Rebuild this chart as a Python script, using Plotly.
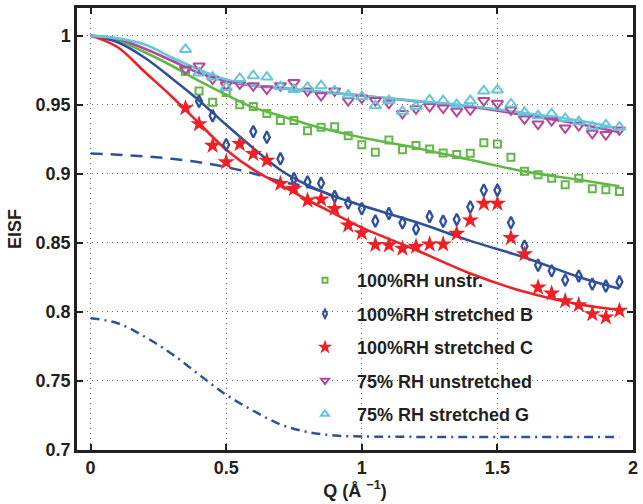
import plotly.graph_objects as go

# Momentum transfer grid of the measured points (1/Angstrom)
q_data = [0.35, 0.40, 0.45, 0.50, 0.55, 0.60, 0.65, 0.70, 0.75, 0.80, 0.85,
          0.90, 0.95, 1.00, 1.05, 1.10, 1.15, 1.20, 1.25, 1.30, 1.35, 1.40,
          1.45, 1.50, 1.55, 1.60, 1.65, 1.70, 1.75, 1.80, 1.85, 1.90, 1.95]

eisf_100_unstr = [0.974, 0.960, 0.9517, 0.9589, 0.950, 0.9486, 0.9437, 0.9385,
                  0.9385, 0.9312, 0.9337, 0.934, 0.9276, 0.921, 0.9156, 0.9245,
                  0.9173, 0.9204, 0.918, 0.9151, 0.9139, 0.9149, 0.9224, 0.9216,
                  0.912, 0.9019, 0.8993, 0.8968, 0.8921, 0.8968, 0.8892, 0.8885,
                  0.8872]

eisf_100_str_b = [None, 0.9524, 0.942, 0.921, None, 0.9305, 0.9264, 0.9108,
                  0.8964, 0.894, 0.8932, 0.8836, 0.8788, 0.8747, 0.8658, 0.8712,
                  0.8645, 0.8600, 0.8690, 0.8656, 0.8668, 0.8759, 0.888, 0.888,
                  0.8645, 0.8475, 0.8338, 0.8297, 0.823, 0.8259, 0.8201, 0.8187,
                  0.8218]

eisf_100_str_c = [0.9476, 0.936, 0.9204, 0.9084, 0.9216, 0.9144, 0.9096, 0.8928,
                  0.8892, 0.8807, 0.8815, 0.8747, 0.8627, 0.8571, 0.8486, 0.8483,
                  0.8459, 0.8472, 0.849, 0.849, 0.8567, 0.8663, 0.8784, 0.8784,
                  0.8536, 0.8418, 0.8177, 0.8134, 0.8079, 0.805, 0.7985, 0.7961,
                  0.8009]

eisf_75_unstr = [0.9757, 0.978, 0.9685, 0.9644, 0.965, 0.9637, 0.9613, 0.9637,
                 0.966, 0.960, 0.9565, 0.960, 0.9529, 0.9548, 0.953, 0.951,
                 0.9437, 0.947, 0.9486, 0.9476, 0.9452, 0.9462, 0.953, 0.951,
                 0.9462, 0.9397, 0.936, 0.9385, 0.9332, 0.9349, 0.9293, 0.9284,
                 0.9317]

eisf_75_str_g = [0.990, 0.973, 0.970, 0.9625, 0.969, 0.971, 0.970, 0.963,
                 0.961, 0.9625, 0.9637, 0.960, 0.957, 0.9558, 0.9493, 0.9529,
                 0.9452, 0.9486, 0.9534, 0.9529, 0.950, 0.9529, 0.960, 0.9606,
                 0.9505, 0.9445, 0.942, 0.9433, 0.940, 0.9377, 0.934, 0.9353,
                 0.9337]

# Fitted model curves, sampled on a coarser Q grid
q_fit = [0.0, 0.1, 0.2, 0.3, 0.4, 0.5, 0.6, 0.7, 0.8, 0.9, 1.0,
         1.2, 1.4, 1.6, 1.8, 1.95]
fit_100_unstr = [1.0, 0.9964, 0.988, 0.9782, 0.9672, 0.9572, 0.948, 0.942,
                 0.9358, 0.9307, 0.9262, 0.9187, 0.9101, 0.9017, 0.8956, 0.891]
fit_100_str_b = [1.0, 0.9952, 0.984, 0.969, 0.9531, 0.9354, 0.9185, 0.9027,
                 0.8917, 0.8836, 0.877, 0.865, 0.8514, 0.8394, 0.8253, 0.8168]
fit_100_str_c = [1.0, 0.9916, 0.9737, 0.9558, 0.9366, 0.9174, 0.903, 0.892,
                 0.881, 0.871, 0.861, 0.8448, 0.8278, 0.8145, 0.8055, 0.8013]
fit_75_unstr = [1.0, 0.9976, 0.9905, 0.9818, 0.973, 0.9672, 0.9637, 0.9622,
                0.960, 0.9585, 0.9565, 0.9525, 0.9485, 0.9425, 0.936, 0.930]
fit_75_str_g = [1.0, 0.998, 0.9935, 0.9842, 0.9754, 0.9682, 0.964, 0.9625,
                0.960, 0.9585, 0.9565, 0.9528, 0.949, 0.944, 0.9385, 0.9325]

# Model components for the stretched sample
q_comp = [0.0, 0.1, 0.2, 0.3, 0.4, 0.5, 0.6, 0.7, 0.8, 0.9, 1.0]
comp_dashed = [0.9146, 0.9138, 0.9126, 0.9108, 0.9083, 0.9048, 0.9002, 0.8945,
               0.8905, 0.8836, 0.877]
q_comp2 = [0.0, 0.1, 0.2, 0.3, 0.4, 0.5, 0.6, 0.7, 0.8, 0.9, 1.0,
           1.2, 1.4, 1.6, 1.8, 1.95]
comp_dashdot = [0.7954, 0.7918, 0.782, 0.7695, 0.7546, 0.740, 0.7284, 0.7185,
                0.713, 0.7105, 0.7098, 0.7095, 0.7095, 0.7095, 0.7095, 0.7095]

x_ticks = [0, 0.5, 1, 1.5, 2]
x_tick_text = ["0", "0.5", "1", "1.5", "2"]
y_ticks = [0.7, 0.75, 0.8, 0.85, 0.9, 0.95, 1.0]
y_tick_text = ["0.7", "0.75", "0.8", "0.85", "0.9", "0.95", "1"]

series_names = ["100%RH unstr.", "100%RH stretched B", "100%RH stretched C",
                "75% RH unstretched", "75% RH stretched G"]

GREEN = "#62b847"
BLUE = "#2f4f9f"
RED = "#ee2026"
PURPLE = "#b3479c"
CYAN = "#63c6da"
INK = "#231f20"
FONT = "Liberation Sans, Arial, Helvetica, sans-serif"

fig = go.Figure()

# component curves (drawn underneath)
fig.add_trace(go.Scatter(x=q_comp, y=comp_dashed, mode="lines", line_shape="spline",
                         line=dict(color=BLUE, width=2.5, dash="12px,8px"),
                         showlegend=False, hoverinfo="skip"))
fig.add_trace(go.Scatter(x=q_comp2, y=comp_dashdot, mode="lines", line_shape="spline",
                         line=dict(color=BLUE, width=2.5, dash="9px,5px,2px,5px"),
                         showlegend=False, hoverinfo="skip"))

fits = [(fit_100_unstr, GREEN), (fit_100_str_b, BLUE), (fit_100_str_c, RED),
        (fit_75_unstr, PURPLE), (fit_75_str_g, CYAN)]
for ys, col in fits:
    fig.add_trace(go.Scatter(x=q_fit, y=ys, mode="lines", line_shape="spline",
                             line=dict(color=col, width=2.6),
                             showlegend=False, hoverinfo="skip"))

data_styles = [
    (eisf_100_unstr, dict(symbol="square-open", size=7, color=GREEN, line=dict(width=2, color=GREEN))),
    (eisf_100_str_b, dict(symbol="diamond-tall-open", size=8.5, color=BLUE, line=dict(width=2.3, color=BLUE))),
    (eisf_100_str_c, dict(symbol="star", size=13, color=RED, line=dict(width=0))),
    (eisf_75_unstr, dict(symbol="triangle-down-open", size=10, color=PURPLE, line=dict(width=2, color=PURPLE))),
    (eisf_75_str_g, dict(symbol="triangle-up-open", size=10, color=CYAN, line=dict(width=2, color=CYAN))),
]
for (ys, mk), name in zip(data_styles, series_names):
    fig.add_trace(go.Scatter(x=q_data, y=ys, mode="markers", marker=mk,
                             name=name, showlegend=False))

# legend entries use smaller symbols
legend_styles = [
    dict(symbol="square-open", size=5, color=GREEN, line=dict(width=2, color=GREEN)),
    dict(symbol="diamond-tall-open", size=6, color=BLUE, line=dict(width=2, color=BLUE)),
    dict(symbol="star", size=11, color=RED, line=dict(width=0)),
    dict(symbol="triangle-down-open", size=7, color=PURPLE, line=dict(width=2, color=PURPLE)),
    dict(symbol="triangle-up-open", size=7, color=CYAN, line=dict(width=2, color=CYAN)),
]
for i, (mk, name) in enumerate(zip(legend_styles, series_names)):
    fig.add_trace(go.Scatter(x=[None], y=[None], mode="markers", marker=mk,
                             name=name, legendgroup=f"g{i}", showlegend=True))

axis_common = dict(
    showline=True, linecolor=INK, linewidth=2.5, mirror="ticks",
    ticks="inside", ticklen=6, tickwidth=2, tickcolor=INK,
    showgrid=True, gridcolor="#6d6d6d", gridwidth=1, griddash="1px,4px",
    zeroline=False,
    tickfont=dict(family=FONT, size=18, color=INK, weight="bold"),
)

fig.update_xaxes(range=[-0.05, 2], tickvals=x_ticks, ticktext=x_tick_text,
                 title=dict(text="Q (Å <sup>−1</sup>)", standoff=5,
                            font=dict(family=FONT, size=18, color=INK, weight="bold")),
                 **axis_common)
fig.update_yaxes(range=[0.7, 1.02], tickvals=y_ticks, ticktext=y_tick_text,
                 title=dict(text="EISF", standoff=10,
                            font=dict(family=FONT, size=18, color=INK, weight="bold")),
                 **axis_common)

fig.update_layout(
    width=643, height=504,
    margin=dict(l=77, r=5, t=7, b=54),
    paper_bgcolor="white", plot_bgcolor="white",
    font=dict(family=FONT, color=INK),
    legend=dict(x=0.3885, y=0.425, xanchor="left", yanchor="top",
                bgcolor="rgba(0,0,0,0)", borderwidth=0,
                traceorder="grouped", tracegroupgap=7, itemwidth=54,
                font=dict(family=FONT, size=18, color=INK, weight="bold")),
)

fig.write_html("out.html")
